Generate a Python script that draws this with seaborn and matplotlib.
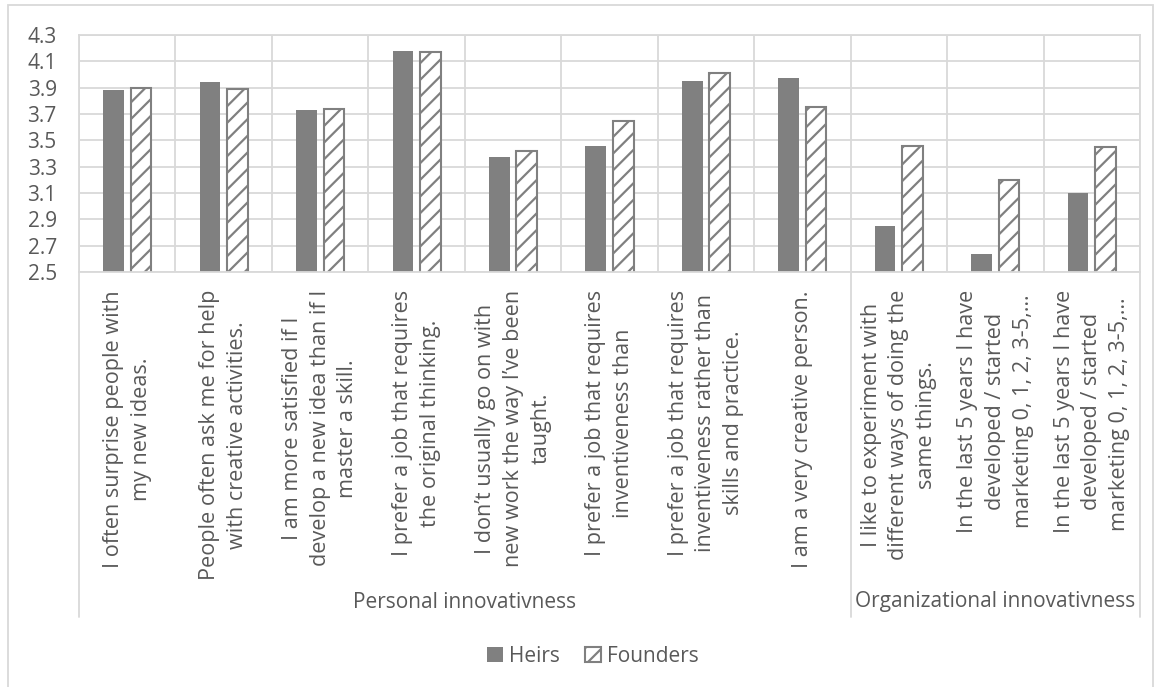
import matplotlib
matplotlib.use("Agg")
import matplotlib.pyplot as plt
from matplotlib.patches import Rectangle
from matplotlib.transforms import blended_transform_factory
import seaborn as sns
import pandas as pd

categories = [
    "I often surprise people with\nmy new ideas.",
    "People often ask me for help\nwith creative activities.",
    "I am more satisfied if I\ndevelop a new idea than if I\nmaster a skill.",
    "I prefer a job that requires\nthe original thinking.",
    "I don\u2019t usually go on with\nnew work the way I\u2019ve been\ntaught.",
    "I prefer a job that requires\ninventiveness than",
    "I prefer a job that requires\ninventiveness rather than\nskills and practice.",
    "I am a very creative person.",
    "I like to experiment with\ndifferent ways of doing the\nsame things.",
    "In the last 5 years I have\ndeveloped / started\nmarketing 0, 1, 2, 3-5,\u2026",
    "In the last 5 years I have\ndeveloped / started\nmarketing 0, 1, 2, 3-5,\u2026 ",
]
heirs = [3.88, 3.94, 3.73, 4.18, 3.37, 3.46, 3.95, 3.97, 2.85, 2.64, 3.10]
founders = [3.90, 3.89, 3.74, 4.17, 3.42, 3.65, 4.01, 3.75, 3.46, 3.20, 3.45]
series_names = ["Heirs", "Founders"]
groups = ["Personal innovativness", "Organizational innovativness"]
group_sizes = [8, 3]
yticks = [2.5, 2.7, 2.9, 3.1, 3.3, 3.5, 3.7, 3.9, 4.1, 4.3]

df = pd.DataFrame({
    "category": categories * 2,
    "series": [series_names[0]] * len(categories) + [series_names[1]] * len(categories),
    "value": heirs + founders,
})

sns.set_theme(style="white")
plt.rcParams["font.family"] = ["Open Sans", "DejaVu Sans"]
plt.rcParams["hatch.linewidth"] = 1.6
TXT = "#595959"
GRID = "#d9d9d9"
BAR = "#808080"
FS = 15

W, H = 1159, 687
fig = plt.figure(figsize=(W / 100, H / 100), dpi=100)
ax = fig.add_axes([79 / W, 1 - 272 / H, (1140 - 79) / W, (272 - 35) / H])

sns.barplot(data=df, x="category", y="value", hue="series", order=categories,
            hue_order=series_names, palette=[BAR, "white"], width=0.57, gap=0.25,
            saturation=1, ax=ax, legend=False)

for p in ax.containers[0]:
    p.set_facecolor(BAR)
    p.set_edgecolor(BAR)
    p.set_linewidth(0)
for p in ax.containers[1]:
    p.set_facecolor("white")
    p.set_edgecolor(BAR)
    p.set_hatch("//")
    p.set_linewidth(1.5)

ax.set_ylim(2.5, 4.3)
ax.set_xlim(-0.5, len(categories) - 0.5)
ax.set_yticks(yticks)
ax.set_yticklabels([f"{v:.1f}" for v in yticks])
ax.set_xlabel("")
ax.set_ylabel("")

ax.tick_params(axis="y", length=0, pad=16, labelsize=FS, labelcolor=TXT)
ax.tick_params(axis="x", length=0, pad=13, labelsize=15.6, labelcolor=TXT)
for lab in ax.get_xticklabels():
    lab.set_rotation(90)
    lab.set_ha("center")
    lab.set_va("top")
    lab.set_multialignment("center")
    lab.set_linespacing(1.42)

ax.set_xticks([i + 0.5 for i in range(-1, len(categories))], minor=True)
ax.grid(False)
ax.grid(True, which="major", axis="y", color=GRID, linewidth=1.3)
ax.grid(True, which="minor", axis="x", color=GRID, linewidth=1.3)
ax.tick_params(which="minor", length=0)
ax.set_axisbelow(True)
for s in ax.spines.values():
    s.set_color(GRID)
    s.set_linewidth(1.3)

# group separators and labels below the axis
trans = blended_transform_factory(ax.transData, ax.transAxes)
ax_h = 272 - 35
y_sep = -(617 - 272) / ax_h
y_grp = -(602 - 272) / ax_h
bounds = [-0.5]
for n in group_sizes:
    bounds.append(bounds[-1] + n)
for b in bounds:
    ax.plot([b, b], [0, y_sep], transform=trans, color=GRID, linewidth=1.3,
            clip_on=False, zorder=0)
for i, g in enumerate(groups):
    ax.text((bounds[i] + bounds[i + 1]) / 2, y_grp, g, transform=trans,
            ha="center", va="center", fontsize=FS, color=TXT)

# legend built from the drawn bars
handles = [ax.containers[0][0], ax.containers[1][0]]
leg = fig.legend(handles, series_names, loc="center", bbox_to_anchor=(593 / W, 1 - 656 / H),
                 ncol=2, frameon=False, fontsize=FS, handlelength=0.75,
                 handleheight=0.75, handletextpad=0.3, columnspacing=1.2)
for t in leg.get_texts():
    t.set_color(TXT)

# outer chart border
fig.patches.append(Rectangle((8 / W, -0.01), (1153 - 8) / W, 1 - 5 / H + 0.01,
                             transform=fig.transFigure, fill=False,
                             edgecolor=GRID, linewidth=1.3))

fig.savefig("out.png", dpi=100)
